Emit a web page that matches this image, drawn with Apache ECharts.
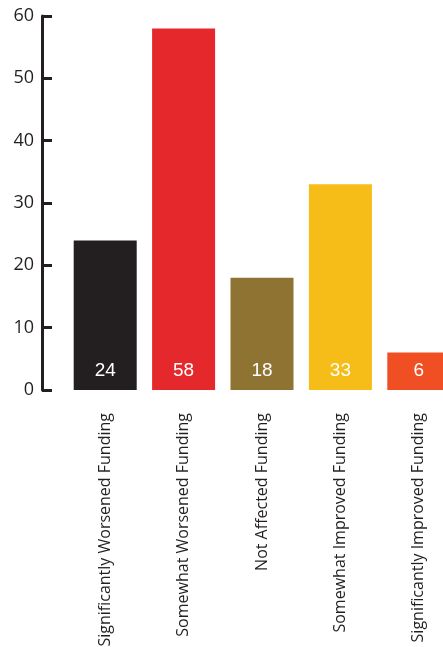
<!DOCTYPE html>
<html>
<head>
<meta charset="utf-8">
<style>html,body{margin:0;padding:0;background:#fff;}#c{width:443px;height:647px;}</style>
<script src="https://cdn.jsdelivr.net/npm/echarts@6/dist/echarts.min.js"></script>
</head>
<body>
<div id="c"></div>
<script>
var categories = ["Significantly Worsened Funding","Somewhat Worsened Funding","Not Affected Funding","Somewhat Improved Funding","Significantly Improved Funding"];
var values = [24, 58, 18, 33, 6];
var barColors = ["#231f20","#e4282b","#8f7332","#f6bd18","#f04f23"];
var yTicks = [0, 10, 20, 30, 40, 50, 60];

var chart = echarts.init(document.getElementById('c'), null, {renderer:'canvas'});
chart.setOption({
  animation: false,
  grid: {left: 66, width: 392, top: 16, bottom: 257, containLabel: false, outerBoundsMode: 'none'},
  xAxis: {
    type: 'category',
    data: categories,
    axisLine: {show: false},
    axisTick: {show: false},
    axisLabel: {
      rotate: 90,
      margin: 23,
      color: '#231f20',
      fontFamily: 'Open Sans',
      fontSize: 16,
      interval: 0
    }
  },
  yAxis: {
    type: 'value',
    min: yTicks[0],
    max: yTicks[yTicks.length-1],
    interval: 10,
    offset: 24,
    splitLine: {show: false},
    axisLine: {show: true, lineStyle: {color: '#231f20', width: 3}},
    axisTick: {show: true, inside: true, length: 10, lineStyle: {color: '#231f20', width: 3}},
    axisLabel: {color: '#231f20', fontFamily: 'Open Sans', fontSize: 18, margin: 8}
  },
  series: [{
    type: 'bar',
    data: values.map(function(v, i){ return {value: v, itemStyle: {color: barColors[i]}}; }),
    barWidth: 63,
    label: {
      show: true,
      position: 'insideBottom',
      distance: 10,
      color: '#fff',
      fontFamily: 'Liberation Sans',
      fontSize: 19
    }
  }]
});
</script>
</body>
</html>
